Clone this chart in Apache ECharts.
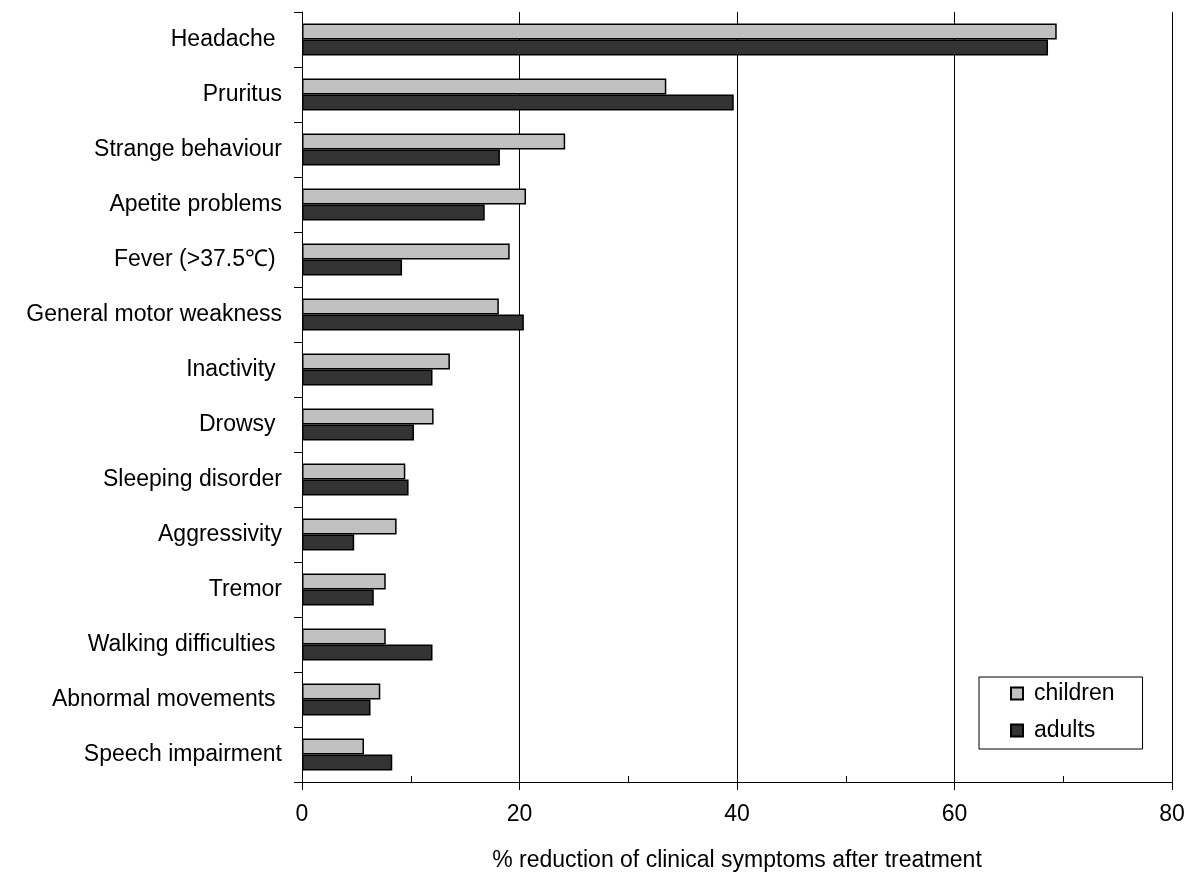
<!DOCTYPE html>
<html>
<head>
<meta charset="utf-8">
<script src="https://cdn.jsdelivr.net/npm/echarts@6/dist/echarts.min.js"></script>
<style>html,body{margin:0;padding:0;background:#fff}#c{width:1190px;height:872px}</style>
</head>
<body>
<div id="c"></div>
<script>
const categories = ["Headache ", "Pruritus", "Strange behaviour", "Apetite problems", "Fever (>37.5\u2103) ", "General motor weakness", "Inactivity ", "Drowsy ", "Sleeping disorder", "Aggressivity", "Tremor", "Walking difficulties ", "Abnormal movements ", "Speech impairment"];
const children = [69.4, 33.5, 24.2, 20.6, 19.1, 18.1, 13.6, 12.1, 9.5, 8.7, 7.7, 7.7, 7.2, 5.7];
const adults = [68.6, 39.7, 18.2, 16.8, 9.2, 20.4, 12.0, 10.3, 9.8, 4.8, 6.6, 12.0, 6.3, 8.3];
const xTicks = [0, 20, 40, 60, 80];

const FONT = "'Liberation Sans', Arial, sans-serif";
const FS = 23;
const chart = echarts.init(document.getElementById('c'), null, {renderer: 'canvas'});
chart.setOption({
  animation: false,
  backgroundColor: '#fff',
  textStyle: {fontFamily: FONT, color: '#000'},
  grid: {left: 302, right: 18, top: 12, bottom: 90, containLabel: false, outerBoundsMode: 'none'},
  legend: {
    orient: 'vertical', left: 979, top: 677,
    padding: [5, 28, 7, 31], itemGap: 14,
    itemWidth: 12, itemHeight: 12,
    borderColor: '#000', borderWidth: 1,
    textStyle: {fontSize: FS, color: '#000', fontFamily: FONT, padding: [0, 0, 0, 6]},
    data: [{name: 'children', icon: 'rect'}, {name: 'adults', icon: 'rect'}]
  },
  xAxis: [{
    type: 'value', min: xTicks[0], max: xTicks[xTicks.length - 1], interval: 20,
    axisLine: {show: true, lineStyle: {color: '#000', width: 1}},
    axisTick: {show: true, inside: false, length: 8, lineStyle: {color: '#000'}},
    axisLabel: {fontSize: FS, color: '#000', margin: 21, fontFamily: FONT},
    splitLine: {show: true, lineStyle: {color: '#000', width: 1}},
    name: '% reduction of clinical symptoms after treatment',
    nameLocation: 'middle', nameGap: 67,
    nameTextStyle: {fontSize: FS, color: '#000', fontFamily: FONT}
  }, {
    type: 'value', min: 0, max: 80, interval: 10, position: 'bottom',
    axisLine: {show: false},
    axisTick: {show: true, inside: true, length: 6, lineStyle: {color: '#000'}},
    axisLabel: {show: false}, splitLine: {show: false}
  }],
  yAxis: {
    type: 'category', data: categories, inverse: true,
    axisLine: {show: true, lineStyle: {color: '#000', width: 1}},
    axisTick: {show: true, inside: false, length: 8, lineStyle: {color: '#000'}},
    axisLabel: {fontSize: FS, color: '#000', margin: 20, fontFamily: FONT},
    splitLine: {show: false}
  },
  series: [{
    name: 'children', type: 'bar', data: children, xAxisIndex: 0,
    barWidth: 16, barGap: '0%',
    itemStyle: {color: '#c0c0c0', borderColor: '#000', borderWidth: 1.5}
  }, {
    name: 'adults', type: 'bar', data: adults, xAxisIndex: 0,
    barWidth: 16, barGap: '0%',
    itemStyle: {color: '#333333', borderColor: '#000', borderWidth: 1.5}
  }]
});
</script>
</body>
</html>
